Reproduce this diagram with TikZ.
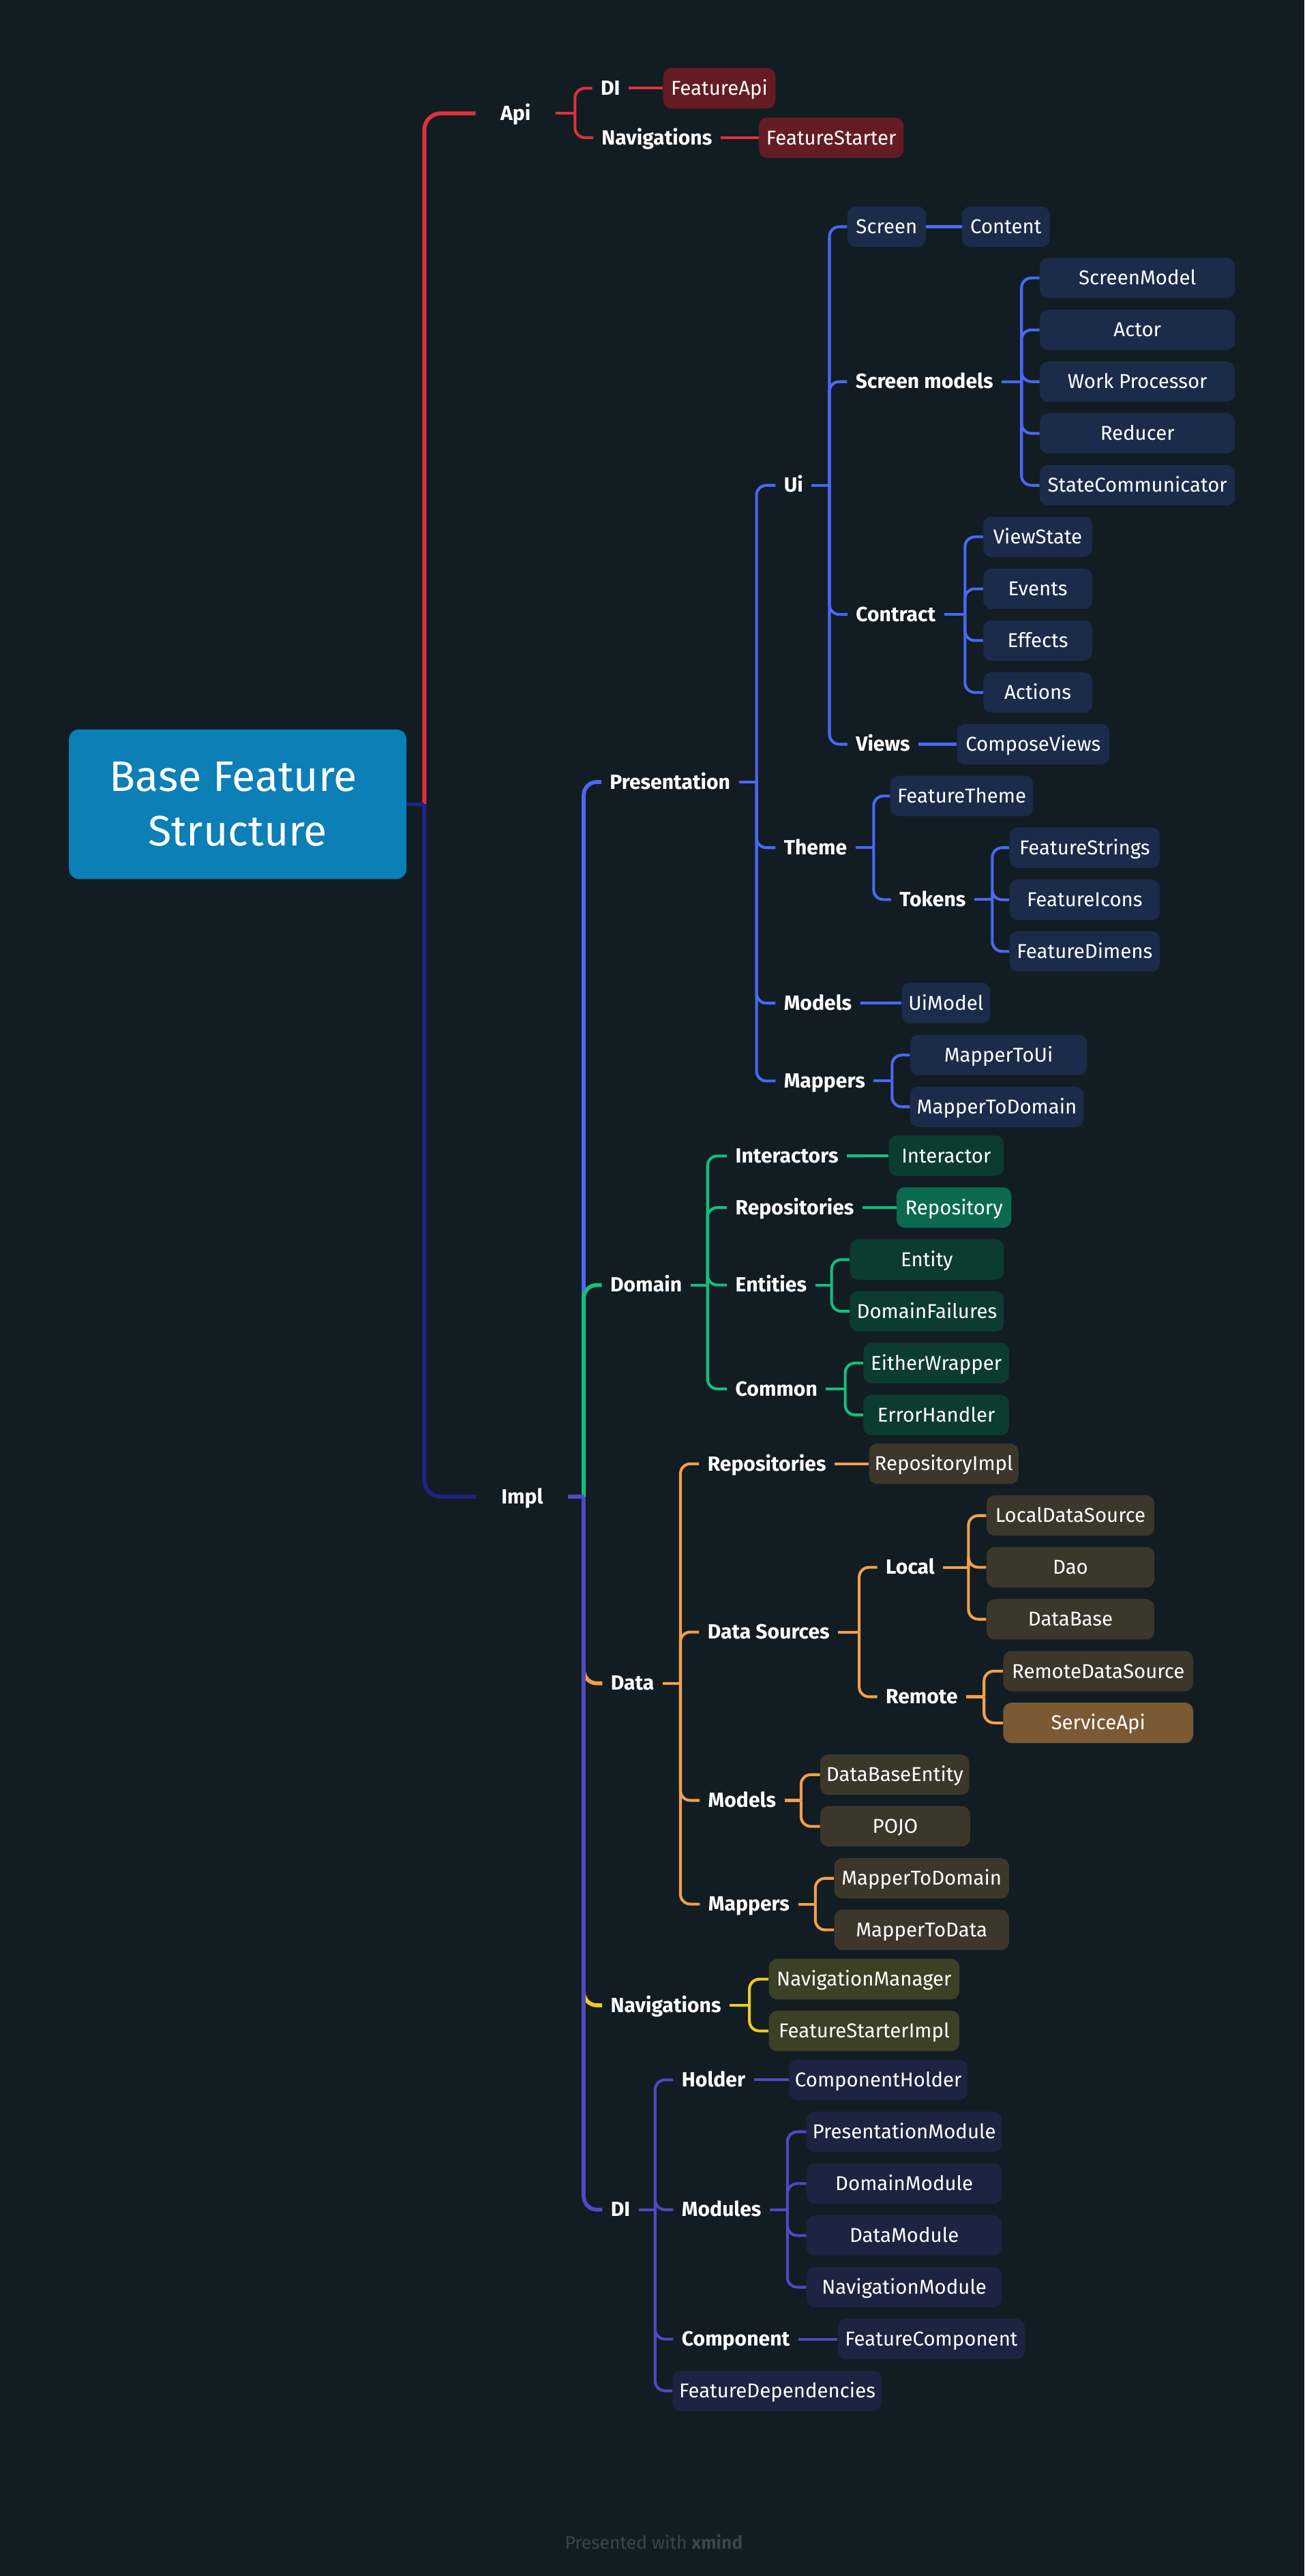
\documentclass[tikz,border=0pt]{standalone}
\usepackage{fontspec}
\setmainfont{Fira Sans}
\definecolor{bg}{HTML}{111D22}
\definecolor{rootblue}{HTML}{0C7FB6}
\definecolor{redC}{HTML}{E0303D}
\definecolor{redbox}{HTML}{641C22}
\definecolor{navyC}{HTML}{1F2485}
\definecolor{blueC}{HTML}{4A68F4}
\definecolor{bluebox}{HTML}{1C2B4A}
\definecolor{greenC}{HTML}{12BF7F}
\definecolor{greenbox}{HTML}{0C3B31}
\definecolor{greenhi}{HTML}{0B6A4E}
\definecolor{orangeC}{HTML}{F49F4A}
\definecolor{orangebox}{HTML}{3D362B}
\definecolor{orangehi}{HTML}{7A5A34}
\definecolor{yellowC}{HTML}{F0CB1B}
\definecolor{yellowbox}{HTML}{3C4024}
\definecolor{purpleC}{HTML}{5148C4}
\definecolor{purplebox}{HTML}{1C2441}
\definecolor{footgray}{HTML}{3A454D}
\tikzset{
  lbl/.style={anchor=west, inner xsep=5pt, inner ysep=0pt, text height=8.5pt, text depth=0pt,
    font=\fontsize{12.5}{14}\selectfont\bfseries, text=white},
  toplbl/.style={lbl, inner xsep=15pt},
  box/.style={rounded corners=5pt, minimum height=24.6pt, inner sep=0pt, text height=8.4pt,
    text depth=0pt, font=\fontsize{12.2}{14}\selectfont, text=white},
  ln/.style={line width=1.7pt, rounded corners=6pt},
  mainln/.style={line width=2.4pt, rounded corners=8pt},
  rootln/.style={line width=2.4pt, rounded corners=10pt},
}
\newcommand\bx[6]{\node[box,fill=#5,minimum width={#3-#2}] (#1) at ({(#2+#3)/2},#4) {#6};}
\newcommand\lb[4]{\node[lbl] (#1) at ({#2-5},#3) {#4};}
\newcommand\br[4]{%
  \foreach \ch in {#4} {\draw[#3] (#1.east -| #2,0) |- (\ch.west);}
  \draw[#3] (#1.east) -- (#1.east -| #2,0);
}
\begin{document}
\begin{tikzpicture}[x=1pt,y=-1pt]
\fill[bg] (0,0) rectangle (794,1568);
\useasboundingbox (0,0) rectangle (794,1568);

% root
\node[fill=rootblue, rounded corners=6pt, minimum width=205.4pt, minimum height=91pt, inner sep=0pt] (root) at (144.7,489.5) {};
\node[anchor=base, inner sep=0pt, text=white, font=\fontsize{26}{30}\selectfont] (rt1) at (142,481.5) {Base Feature};
\node[anchor=base, inner sep=0pt, text=white, font=\fontsize{26}{30}\selectfont] (rt2) at (144.7,514.8) {Structure};

% level 1
\node[toplbl] (Api) at (289.5,69) {Api};
\node[toplbl] (Impl) at (290,911) {Impl};

% Api group
\lb{DIa}{365.5}{53.7}{DI}
\lb{NavA}{366}{83.8}{Navigations}
\bx{FeatureApi}{403.7}{472}{53.7}{redbox}{FeatureApi}
\bx{FeatureStarter}{462}{550}{83.8}{redbox}{FeatureStarter}

% Presentation group
\lb{Pres}{371}{476}{Presentation}
\lb{Ui}{477}{295.4}{Ui}
\lb{Theme}{477}{516}{Theme}
\lb{ModelsP}{477}{610.6}{Models}
\lb{MappersP}{477}{658}{Mappers}
\bx{Screen}{515.8}{563.6}{138}{bluebox}{Screen}
\bx{Content}{585.6}{639}{138}{bluebox}{Content}
\lb{ScreenModels}{520.6}{232.3}{Screen models}
\lb{Contract}{520.8}{374}{Contract}
\lb{Views}{520.8}{453}{Views}
\bx{ScreenModel}{633}{751.7}{169.2}{bluebox}{ScreenModel}
\bx{Actor}{633}{751.7}{200.8}{bluebox}{Actor}
\bx{WorkProcessor}{633}{751.7}{232.3}{bluebox}{Work Processor}
\bx{Reducer}{633}{751.7}{263.8}{bluebox}{Reducer}
\bx{StateCommunicator}{633}{751.7}{295.4}{bluebox}{StateCommunicator}
\bx{ViewState}{598.6}{664.8}{326.8}{bluebox}{ViewState}
\bx{Events}{598.6}{664.8}{358.4}{bluebox}{Events}
\bx{Effects}{598.6}{664.8}{389.9}{bluebox}{Effects}
\bx{Actions}{598.6}{664.8}{421.5}{bluebox}{Actions}
\bx{ComposeViews}{582.5}{675.3}{453}{bluebox}{ComposeViews}
\bx{FeatureTheme}{542}{628.8}{484.5}{bluebox}{FeatureTheme}
\lb{Tokens}{547.4}{547.6}{Tokens}
\bx{FeatureStrings}{614.5}{706}{516}{bluebox}{FeatureStrings}
\bx{FeatureIcons}{614.5}{706}{547.7}{bluebox}{FeatureIcons}
\bx{FeatureDimens}{614.5}{706}{579.1}{bluebox}{FeatureDimens}
\bx{UiModel}{548.9}{602.8}{610.5}{bluebox}{UiModel}
\bx{MapperToUi}{554}{661.7}{642.2}{bluebox}{MapperToUi}
\bx{MapperToDomainP}{554}{659.6}{673.7}{bluebox}{MapperToDomain}

% Domain group
\lb{Domain}{371.3}{782.2}{Domain}
\lb{Interactors}{447.5}{703.6}{Interactors}
\lb{RepositoriesD}{447.5}{735}{Repositories}
\lb{Entities}{447.5}{782.2}{Entities}
\lb{Common}{447.5}{845.4}{Common}
\bx{Interactor}{541}{611}{703.5}{greenbox}{Interactor}
\bx{Repository}{545.8}{615.6}{735}{greenhi}{Repository}
\bx{Entity}{517.4}{611}{766.7}{greenbox}{Entity}
\bx{DomainFailures}{517.4}{611}{798.2}{greenbox}{DomainFailures}
\bx{EitherWrapper}{525.6}{614.2}{829.7}{greenbox}{EitherWrapper}
\bx{ErrorHandler}{525.6}{614.2}{861.3}{greenbox}{ErrorHandler}

% Data group
\lb{Data}{371.6}{1024.6}{Data}
\lb{RepositoriesI}{430.5}{891}{Repositories}
\lb{DataSources}{430.5}{993.4}{Data Sources}
\lb{ModelsD}{430.9}{1095.9}{Models}
\lb{MappersD}{431}{1159}{Mappers}
\bx{RepositoryImpl}{529}{620}{891}{orangebox}{RepositoryImpl}
\lb{Local}{539}{954}{Local}
\lb{Remote}{539}{1032.8}{Remote}
\bx{LocalDataSource}{600.5}{702.7}{922.5}{orangebox}{LocalDataSource}
\bx{Dao}{600.5}{702.7}{954}{orangebox}{Dao}
\bx{DataBase}{600.5}{702.7}{985.6}{orangebox}{DataBase}
\bx{RemoteDataSource}{610.7}{726.3}{1017.2}{orangebox}{RemoteDataSource}
\bx{ServiceApi}{610.7}{726.3}{1048.7}{orangehi}{ServiceApi}
\bx{DataBaseEntity}{499.3}{590}{1080.2}{orangebox}{DataBaseEntity}
\bx{POJO}{499.3}{590.5}{1111.7}{orangebox}{POJO}
\bx{MapperToDomainD}{507.8}{614.2}{1143.3}{orangebox}{MapperToDomain}
\bx{MapperToData}{507.8}{614.2}{1174.7}{orangebox}{MapperToData}

% Navigations group
\lb{NavI}{371.5}{1220.6}{Navigations}
\bx{NavigationManager}{468}{584}{1204.7}{yellowbox}{NavigationManager}
\bx{FeatureStarterImpl}{468}{584}{1236.2}{yellowbox}{FeatureStarterImpl}

% DI group
\lb{DIi}{371.6}{1345}{DI}
\lb{Holder}{414.8}{1266}{Holder}
\lb{Modules}{414.8}{1345}{Modules}
\lb{Component}{414.8}{1423.8}{Component}
\bx{FeatureDependencies}{409.5}{536.8}{1455.3}{purplebox}{FeatureDependencies}
\bx{ComponentHolder}{480.3}{589}{1266}{purplebox}{ComponentHolder}
\bx{PresentationModule}{491}{609.8}{1297.6}{purplebox}{PresentationModule}
\bx{DomainModule}{491}{609.8}{1329.1}{purplebox}{DomainModule}
\bx{DataModule}{491}{609.8}{1360.7}{purplebox}{DataModule}
\bx{NavigationModule}{491}{609.8}{1392.2}{purplebox}{NavigationModule}
\bx{FeatureComponent}{510}{623.8}{1423.8}{purplebox}{FeatureComponent}

% footer
\node[inner sep=0pt, text=footgray, font=\fontsize{11}{12}\selectfont] (foot) at (398,1547.3) {Presented with \textbf{xmind}};

% ---- connectors ----
\coordinate (rj) at (258.3,489.5);
\draw[rootln, redC] (rj) |- (Api.west);
\draw[rootln, navyC] (rj) |- (Impl.west);
\draw[rootln, navyC] (root.east) -- (rj);

% Api
\br{Api}{350}{ln,redC}{DIa,NavA}
\draw[ln,redC] (DIa.east) -- (FeatureApi.west);
\draw[ln,redC] (NavA.east) -- (FeatureStarter.west);

% Impl
\coordinate (ij) at (355.3,911);
\draw[mainln, blueC] (ij) |- (Pres.west);
\draw[mainln, greenC] (ij) |- (Domain.west);
\draw[mainln, orangeC] (ij) |- (Data.west);
\draw[mainln, yellowC] (ij) |- (NavI.west);
\draw[mainln, purpleC] (ij) |- (DIi.west);
\draw[mainln, purpleC] (Impl.east) -- (ij);

% Presentation
\br{Pres}{460.5}{ln,blueC}{Ui,Theme,ModelsP,MappersP}
\br{Ui}{504.9}{ln,blueC}{Screen,ScreenModels,Contract,Views}
\draw[ln,blueC] (Screen.east) -- (Content.west);
\br{ScreenModels}{621.8}{ln,blueC}{ScreenModel,Actor,WorkProcessor,Reducer,StateCommunicator}
\br{Contract}{587.4}{ln,blueC}{ViewState,Events,Effects,Actions}
\draw[ln,blueC] (Views.east) -- (ComposeViews.west);
\br{Theme}{531.8}{ln,blueC}{FeatureTheme,Tokens}
\br{Tokens}{604}{ln,blueC}{FeatureStrings,FeatureIcons,FeatureDimens}
\draw[ln,blueC] (ModelsP.east) -- (UiModel.west);
\br{MappersP}{543}{ln,blueC}{MapperToUi,MapperToDomainP}

% Domain
\br{Domain}{430.7}{ln,greenC}{Interactors,RepositoriesD,Entities,Common}
\draw[ln,greenC] (Interactors.east) -- (Interactor.west);
\draw[ln,greenC] (RepositoriesD.east) -- (Repository.west);
\br{Entities}{506.2}{ln,greenC}{Entity,DomainFailures}
\br{Common}{514.5}{ln,greenC}{EitherWrapper,ErrorHandler}

% Data
\br{Data}{414.2}{ln,orangeC}{RepositoriesI,DataSources,ModelsD,MappersD}
\draw[ln,orangeC] (RepositoriesI.east) -- (RepositoryImpl.west);
\br{DataSources}{523}{ln,orangeC}{Local,Remote}
\br{Local}{589.5}{ln,orangeC}{LocalDataSource,Dao,DataBase}
\br{Remote}{599}{ln,orangeC}{RemoteDataSource,ServiceApi}
\br{ModelsD}{487.6}{ln,orangeC}{DataBaseEntity,POJO}
\br{MappersD}{496.3}{ln,orangeC}{MapperToDomainD,MapperToData}

% Navigations
\br{NavI}{456.2}{ln,yellowC}{NavigationManager,FeatureStarterImpl}

% DI
\br{DIi}{398.8}{ln,purpleC}{Holder,Modules,Component,FeatureDependencies}
\draw[ln,purpleC] (Holder.east) -- (ComponentHolder.west);
\br{Modules}{479.3}{ln,purpleC}{PresentationModule,DomainModule,DataModule,NavigationModule}
\draw[ln,purpleC] (Component.east) -- (FeatureComponent.west);
\end{tikzpicture}
\end{document}
